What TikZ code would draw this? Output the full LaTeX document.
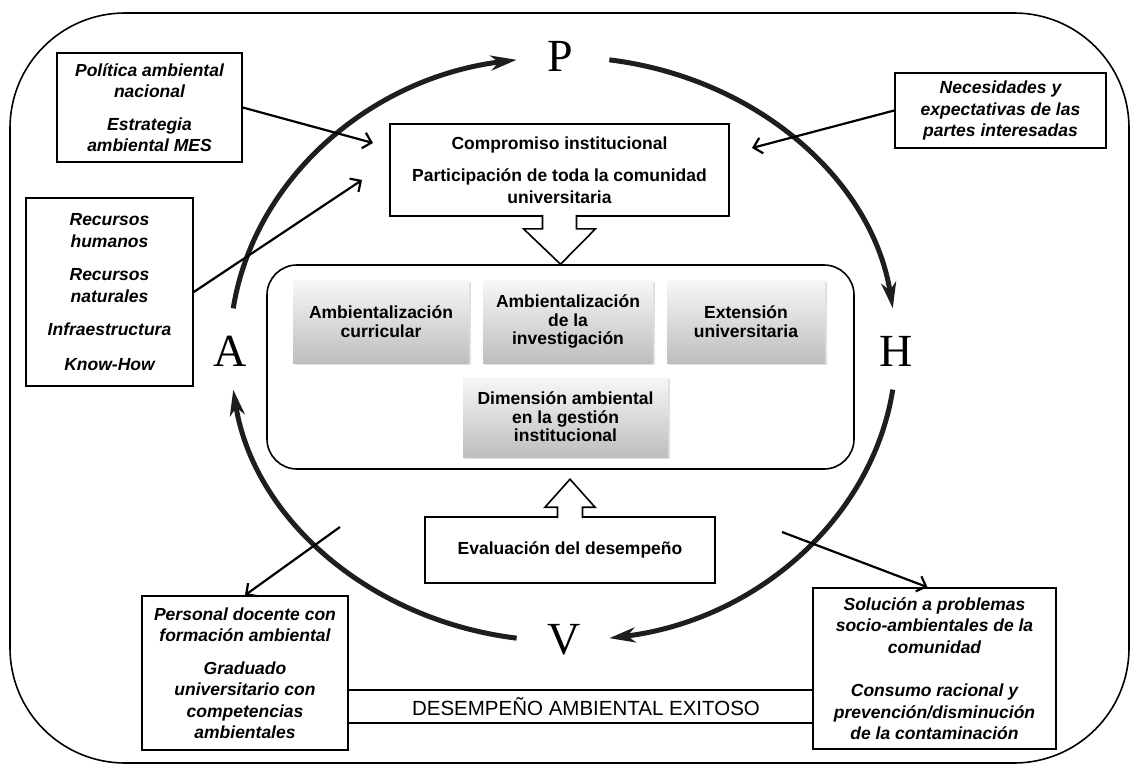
\documentclass[tikz,border=0pt]{standalone}
\usepackage{fontspec}
\setmainfont{Liberation Sans}
\newfontfamily\pdcafont{Liberation Serif}
\usepackage{tikz}
\usetikzlibrary{arrows.meta,positioning,calc,shadows}
\definecolor{cyGray}{RGB}{30,30,30}
\definecolor{shTop} {RGB}{247,247,247}
\definecolor{shBot} {RGB}{190,190,190}

\begin{document}
\begin{tikzpicture}[
  x=1pt, y=-1pt,
  every node/.style={font=\fontsize{17.5}{21.5}\selectfont\bfseries, inner sep=0pt},
  box/.style={draw, line width=1.6pt, fill=white, align=center},
  ibox/.style={box, font=\fontsize{17.5}{21.5}\selectfont\bfseries\itshape},
  gbox/.style={align=center, top color=shTop, bottom color=shBot,
               font=\fontsize{17.5}{18.5}\selectfont\bfseries,
               drop shadow={opacity=0.25,shadow xshift=1.5pt,shadow yshift=-1.5pt}},
  letter/.style={font=\pdcafont\fontsize{46}{46}\selectfont},
  loopArc/.style={line width=5pt, draw=cyGray,
                  -{Stealth[length=26pt,width=15pt,inset=8pt]}},
  link/.style={line width=2.2pt, -{Straight Barb[length=8pt,width=16pt]}},
  hollow/.style={line width=1.6pt, fill=white, line join=miter}
]
\useasboundingbox (0,0) rectangle (1132,765);
% Outer frame
\draw[line width=1.6pt, rounded corners=115pt] (10,13) rectangle (1129,763);

% PHVA cycle
\coordinate (ctr) at (563,349);
\node[letter] (P) at (560,56)  {P};
\node[letter] (H) at (896,351) {H};
\node[letter] (V) at (564,640) {V};
\node[letter] (A) at (230,351) {A};
\draw[loopArc] ($(ctr)+(-172:333 and 292)$) arc[start angle=-172, end angle=-98, x radius=333, y radius=292];
\draw[loopArc] ($(ctr)+(-82:333 and 292)$)  arc[start angle=-82,  end angle=-8,  x radius=333, y radius=292];
\draw[loopArc] ($(ctr)+(8:333 and 292)$)    arc[start angle=8,    end angle=82,  x radius=333, y radius=292];
\draw[loopArc] ($(ctr)+(98:333 and 292)$)   arc[start angle=98,   end angle=172, x radius=333, y radius=292];

% Input boxes
\node[ibox, minimum width=185, minimum height=109] (pol) at (149.5,107.5)
  {Política ambiental\\ nacional\\[11pt] Estrategia\\ ambiental MES};
\node[ibox, minimum width=167, minimum height=188] (rec) at (109.5,292)
  {Recursos\\ humanos\\[12pt] Recursos\\ naturales\\[12pt] Infraestructura\\[13pt] Know-How};
\node[ibox, minimum width=211, minimum height=75] (nec) at (1000.5,110.5)
  {Necesidades y\\ expectativas de las\\ partes interesadas};

% Commitment box
\node[box, minimum width=339, minimum height=92] (comp) at (559.5,170)
  {Compromiso institucional\\[11pt] Participación de toda la comunidad\\ universitaria};

% Core with the four processes
\node[box, rounded corners=30pt, minimum width=587, minimum height=204] (core) at (560.5,367) {};
\node[gbox, minimum width=176, minimum height=83] (curr) at (381,321.5)
  {Ambientalización\\ curricular};
\node[gbox, minimum width=170, minimum height=83] (inv) at (568,321.5)
  {Ambientalización\\ de la\\ investigación};
\node[gbox, minimum width=158, minimum height=83] (ext) at (746,321.5)
  {Extensión\\ universitaria};
\node[gbox, minimum width=205, minimum height=80] (gest) at (565.5,417)
  {Dimensión ambiental\\ en la gestión\\ institucional};

% Evaluation box
\node[box, minimum width=290, minimum height=66] (eval) at (570,550)
  {Evaluación del desempeño};

% Output boxes
\node[ibox, minimum width=206, minimum height=154] (pers) at (245,673)
  {Personal docente con\\ formación ambiental\\[11pt] Graduado\\ universitario con\\ competencias\\ ambientales};
\node[ibox, minimum width=243, minimum height=161] (sol) at (934.5,668.5)
  {Solución a problemas\\ socio-ambientales de la\\ comunidad\\[22pt] Consumo racional y\\ prevención/disminución\\ de la contaminación};

% Hollow arrows
\draw[hollow] ($(comp.south)+(-17,-2)$) -- ++(0,14) -- ++(-19,0) -- (core.north)
  -- ($(comp.south)+(36,12)$) -- ++(-19,0) -- ++(0,-14);
\draw[hollow] ($(eval.north)+(-12.5,2)$) -- ++(0,-11) -- ++(-12.5,0) -- ($(eval.north)+(0,-37)$)
  -- ($(eval.north)+(25,-9)$) -- ++(-12.5,0) -- ++(0,11);

% Thin arrows
\coordinate (polTip) at (373,143);
\coordinate (recTip) at (362,180);
\coordinate (necTip) at (752,148);
\coordinate (persTail) at (340,527);
\coordinate (solTail) at (782,532);
\draw[link] (pol.east) -- (polTip);
\draw[link] (rec.east) -- (recTip);
\draw[link] (nec.west) -- (necTip);
\draw[link] (persTail) -- (pers.north);
\draw[link] (solTail) -- ([xshift=-7pt]sol.north);

% Result band
\node[font=\fontsize{20.5}{24}\selectfont, minimum height=33] (band) at (586,706.5)
  {DESEMPEÑO AMBIENTAL EXITOSO};
\draw[line width=1.6pt] (pers.east |- band.north) -- (sol.west |- band.north);
\draw[line width=1.6pt] (pers.east |- band.south) -- (sol.west |- band.south);
\end{tikzpicture}
\end{document}
